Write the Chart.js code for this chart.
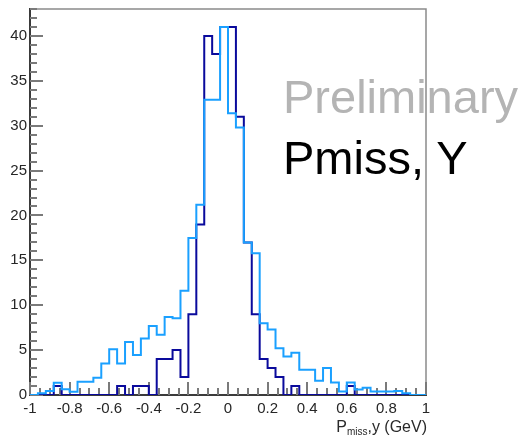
<!DOCTYPE html>
<html>
<head>
<meta charset="utf-8">
<script src="https://cdn.jsdelivr.net/npm/chart.js@4.4.1/dist/chart.umd.min.js"></script>
<style>
  html, body { margin: 0; padding: 0; background: #fff; }
  #wrap { position: relative; width: 520px; height: 436px; overflow: hidden; }
  #wrap canvas { position: absolute; left: 0; top: 0; }
  .note { position: absolute; font-family: "Liberation Sans", Arial, sans-serif; white-space: nowrap; line-height: 1; }
  #prelim { left: 283px; top: 73px; font-size: 47px; color: #b4b4b4; }
  #tag { left: 283px; top: 134px; font-size: 47px; color: #000; }
  #xtitle { right: 93px; top: 419px; font-size: 16px; color: #2a2a2a; }
  #xtitle sub { font-size: 10px; vertical-align: -3px; }
</style>
</head>
<body>
<div id="wrap">
  <canvas id="c" width="520" height="436"></canvas>
  <div class="note" id="prelim">Preliminary</div>
  <div class="note" id="tag">Pmiss, Y</div>
  <div class="note" id="xtitle">P<sub>miss</sub>,y (GeV)</div>
</div>
<script>
// Histogram binning: 50 bins of 0.04 GeV from -1 to 1
const binLow = -1;
const binWidth = 0.04;

// Bin contents, dark (navy) histogram
const darkCounts = [
  0, 0, 0, 1, 0, 0, 0, 0, 0, 0,
  0, 1, 0, 1, 1, 0, 4, 4, 5, 2,
  9, 19, 40, 38, 41, 41, 31, 17, 9, 4,
  3, 2, 0, 1, 0, 0, 0, 0, 0, 0,
  1, 0, 0, 0, 0, 0, 0, 0, 0, 0
];

// Bin contents, light (azure) histogram
const lightCounts = [
  0, 0.2, 0.45, 1.37, 0.63, 0.37, 1.48, 1.48, 1.93, 3.5,
  5.1, 3.5, 5.9, 4.45, 6.3, 7.7, 6.7, 8.7, 8.55, 11.6,
  17.5, 21.2, 32.9, 32.9, 41, 31.4, 29.8, 17.0, 15.8, 8.0,
  7.3, 5.2, 4.3, 4.7, 2.8, 2.8, 1.6, 3.0, 1.4, 0.4,
  1.4, 0.6, 0.8, 0.4, 0.4, 0.4, 0.45, 0.2, 0, 0
];

// Axis tick values and labels
const xTickValues = [-1, -0.8, -0.6, -0.4, -0.2, 0, 0.2, 0.4, 0.6, 0.8, 1];
const xTickLabels = ['-1', '-0.8', '-0.6', '-0.4', '-0.2', '0', '0.2', '0.4', '0.6', '0.8', '1'];
const yTickValues = [0, 5, 10, 15, 20, 25, 30, 35, 40];
const yTickLabels = ['0', '5', '10', '15', '20', '25', '30', '35', '40'];
const xRange = [-1, 1];
const yRange = [0, 43];

// Turn bin contents into an outline: one point per low edge, plus closing points
function outline(counts) {
  const pts = [{ x: binLow, y: 0 }];
  counts.forEach((c, i) => pts.push({ x: binLow + i * binWidth, y: c }));
  const hi = binLow + counts.length * binWidth;
  pts.push({ x: hi, y: counts[counts.length - 1] });
  pts.push({ x: hi, y: 0 });
  return pts;
}

// Frame and inward-facing ticks in the style of a physics plotting package
const frameTicks = {
  id: 'frameTicks',
  beforeDatasetsDraw(chart) {
    const { ctx, chartArea: a, scales: { x, y } } = chart;
    ctx.save();
    // top and right frame
    ctx.strokeStyle = '#8a8a8a';
    ctx.lineWidth = 1.5;
    ctx.beginPath();
    ctx.moveTo(a.left, a.top);
    ctx.lineTo(a.right, a.top);
    ctx.lineTo(a.right, a.bottom);
    ctx.stroke();

    ctx.strokeStyle = '#7a7a7a';
    ctx.lineWidth = 2;
    ctx.beginPath();
    // x ticks: major every 0.2, minor every 0.05
    for (let i = 0; i <= 40; i++) {
      const v = xRange[0] + i * 0.05;
      const px = Math.round(x.getPixelForValue(v));
      const len = (i % 4 === 0) ? 13 : 7;
      ctx.moveTo(px, a.bottom);
      ctx.lineTo(px, a.bottom - len);
    }
    // y ticks: major every 5, minor every 1
    for (let v = yRange[0]; v <= yRange[1]; v++) {
      const py = Math.round(y.getPixelForValue(v));
      const len = (v % 5 === 0) ? 13 : 7;
      ctx.moveTo(a.left, py);
      ctx.lineTo(a.left + len, py);
    }
    ctx.stroke();
    ctx.restore();
  }
};

const tickFont = { family: '"Liberation Sans", Arial, sans-serif', size: 15 };

// Keep the plot frame fixed: no extra room reserved for edge labels
function noEdgePadding(s) {
  s.paddingTop = 0;
  s.paddingBottom = 0;
  s.paddingLeft = 0;
  s.paddingRight = 0;
}

new Chart(document.getElementById('c'), {
  type: 'line',
  data: {
    datasets: [
      {
        label: 'light',
        data: outline(lightCounts),
        borderColor: '#1aa0ff',
        borderWidth: 2,
        stepped: 'before',
        pointRadius: 0,
        fill: false
      },
      {
        label: 'dark',
        data: outline(darkCounts),
        borderColor: '#0a0a9c',
        borderWidth: 2,
        stepped: 'before',
        pointRadius: 0,
        fill: false
      }
    ]
  },
  options: {
    responsive: false,
    animation: false,
    events: [],
    layout: { padding: { top: 9, right: 94, left: 0, bottom: 0 } },
    plugins: { legend: { display: false }, tooltip: { enabled: false } },
    scales: {
      x: {
        type: 'linear',
        min: xRange[0],
        max: xRange[1],
        afterBuildTicks: s => { s.ticks = xTickValues.map(v => ({ value: v })); },
        afterFit: s => { s.height = 41; noEdgePadding(s); },
        grid: { display: false, drawTicks: false },
        border: { display: true, color: '#3a3a3a', width: 2 },
        ticks: {
          autoSkip: false,
          maxRotation: 0,
          padding: 5,
          color: '#262626',
          font: tickFont,
          callback: (v, i) => xTickLabels[i]
        }
      },
      y: {
        type: 'linear',
        min: yRange[0],
        max: yRange[1],
        afterBuildTicks: s => { s.ticks = yTickValues.map(v => ({ value: v })); },
        afterFit: s => { s.width = 30; noEdgePadding(s); },
        grid: { display: false, drawTicks: false },
        border: { display: true, color: '#3a3a3a', width: 2 },
        ticks: {
          autoSkip: false,
          padding: 3,
          color: '#262626',
          font: tickFont,
          callback: (v, i) => yTickLabels[i]
        }
      }
    }
  },
  plugins: [frameTicks]
});
</script>
</body>
</html>
